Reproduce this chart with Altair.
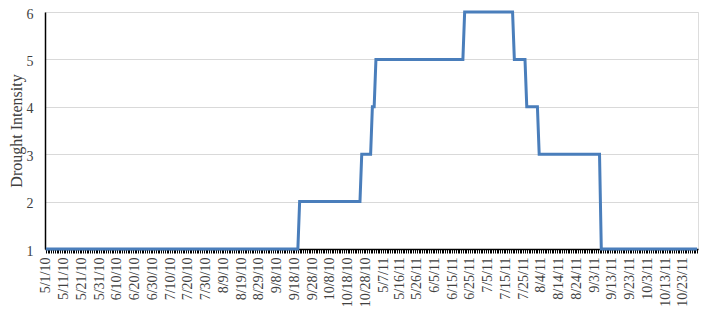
import altair as alt
import pandas as pd

# Category axis: one entry per day, May–Oct of each season
season_2010 = pd.date_range("2010-05-01", "2010-10-31")
season_2011 = pd.date_range("2011-05-01", "2011-10-31")
categories = [f"{d.month}/{d.day}/{d.year % 100}" for d in list(season_2010) + list(season_2011)]

# Tick labels shown on the axis
tick_labels = [
    "5/1/10", "5/11/10", "5/21/10", "5/31/10", "6/10/10", "6/20/10", "6/30/10",
    "7/10/10", "7/20/10", "7/30/10", "8/9/10", "8/19/10", "8/29/10", "9/8/10",
    "9/18/10", "9/28/10", "10/8/10", "10/18/10", "10/28/10", "5/7/11", "5/16/11",
    "5/26/11", "6/5/11", "6/15/11", "6/25/11", "7/5/11", "7/15/11", "7/25/11",
    "8/4/11", "8/14/11", "8/24/11", "9/3/11", "9/13/11", "9/23/11", "10/3/11",
    "10/13/11", "10/23/11",
]

# Drought intensity at the change points of the step series
point_dates = [
    "5/1/10", "9/20/10", "9/21/10", "10/25/10", "10/26/10", "10/31/10",
    "5/1/11", "5/2/11", "5/3/11", "6/21/11", "6/22/11", "7/19/11", "7/20/11",
    "7/26/11", "7/27/11", "8/2/11", "8/3/11", "9/6/11", "9/7/11", "10/31/11",
]
point_values = [1, 1, 2, 2, 3, 3, 4, 4, 5, 5, 6, 6, 5, 5, 4, 4, 3, 3, 1, 1]

df = pd.DataFrame({
    "date": point_dates,
    "value": point_values,
    "order": [categories.index(d) for d in point_dates],
})

label_list = ",".join(f"'{t}'" for t in tick_labels)
label_expr = f"indexof([{label_list}], datum.value) >= 0 ? datum.value : ''"

FONT = "Liberation Serif"
TXT = "#404040"

chart = alt.Chart(df).mark_line(color="#4A7EBB", strokeWidth=3).encode(
    x=alt.X(
        "date:O",
        sort=categories,
        scale=alt.Scale(domain=categories),
        axis=alt.Axis(
            title=None,
            labelExpr=label_expr,
            labelAngle=270,
            labelAlign="right",
            labelBaseline="middle",
            labelOverlap=False,
            labelBound=False,
            labelFont=FONT,
            labelFontSize=14,
            labelColor=TXT,
            labelPadding=4,
            tickColor="#000000",
            tickSize=4,
            tickWidth=1,
            domainColor="#000000",
            domainWidth=1.5,
            grid=False,
        ),
    ),
    y=alt.Y(
        "value:Q",
        scale=alt.Scale(domain=[1, 6], nice=False),
        axis=alt.Axis(
            title="Drought Intensity",
            titleFont=FONT,
            titleFontSize=16,
            titleFontWeight="normal",
            titleColor=TXT,
            titleAngle=270,
            titleBaseline="middle",
            titleX=-29,
            values=[1, 2, 3, 4, 5, 6],
            labelFont=FONT,
            labelFontSize=14,
            labelColor=TXT,
            labelPadding=12,
            labelOffset=2,
            ticks=False,
            domainColor="#000000",
            domainWidth=1.5,
            grid=True,
            gridColor="#D9D9D9",
            gridWidth=1,
        ),
    ),
    order=alt.Order("order:Q"),
).properties(
    width=653,
    height=237,
    autosize=alt.AutoSizeParams(type="none"),
    padding={"left": 37, "top": 4, "right": 9, "bottom": 70},
).configure_view(stroke=None).configure(background="white")

chart.save("out.html", embed_options={"renderer": "svg", "actions": False})
